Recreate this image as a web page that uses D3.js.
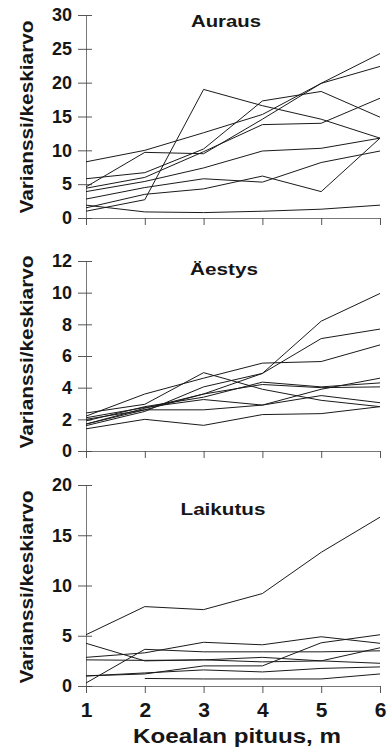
<!DOCTYPE html>
<html><head><meta charset="utf-8">
<script src="https://cdn.jsdelivr.net/npm/d3@7"></script>
<style>
body{margin:0;background:#fff}
svg{display:block}
text{font-family:"Liberation Sans",Arial,Helvetica,sans-serif;font-weight:bold;fill:#161616}
</style>
</head><body><svg id="c" width="387" height="747"></svg>
<script>
const xValues=[1,2,3,4,5,6];
const xTickLabels=["1","2","3","4","5","6"];
const panelTitles=["Auraus","Äestys","Laikutus"];
const yAxisTitle="Varianssi/keskiarvo";
const xAxisTitle="Koealan pituus, m";

const aurausTicks=[0,5,10,15,20,25,30];
const aestysTicks=[0,2,4,6,8,10,12];
const laikutusTicks=[0,5,10,15,20];

const aurausSeries=[
  [8.3,10.0,12.6,15.3,19.9,22.4],
  [4.6,9.7,9.5,14.6,19.9,24.3],
  [5.8,6.7,10.2,17.3,18.7,14.9],
  [4.4,6.0,9.8,13.8,14.0,17.7],
  [1.0,2.7,19.0,16.6,14.6,11.8],
  [3.9,5.4,7.4,9.9,10.3,11.8],
  [2.8,4.5,5.8,5.3,8.2,9.9],
  [1.5,3.5,4.3,6.2,3.9,11.8],
  [1.9,0.9,0.8,1.0,1.3,1.9]
];
const aestysSeries=[
  [1.7,2.6,3.6,4.9,8.2,9.95],
  [1.6,2.5,4.05,4.9,7.1,7.7],
  [2.2,3.6,4.6,5.55,5.65,6.7],
  [2.0,2.6,2.6,2.9,3.9,4.6],
  [1.9,2.8,3.4,4.35,4.05,4.3],
  [1.7,2.7,3.6,4.2,4.0,4.05],
  [2.4,2.95,4.95,3.9,3.2,2.8],
  [2.1,2.75,3.25,2.9,3.5,3.05],
  [1.4,2.0,1.62,2.3,2.36,2.8]
];
const laikutusSeries=[
  [5.1,7.9,7.6,9.2,13.3,16.8],
  [4.25,2.5,2.6,2.4,2.5,3.8],
  [2.85,3.3,4.35,4.1,4.9,4.25],
  [0.3,3.65,3.4,3.4,3.4,3.5],
  [2.6,2.55,2.6,2.85,2.5,2.26],
  [1.0,1.2,2.0,2.0,4.3,5.1],
  [1.0,1.3,1.6,1.4,1.75,1.9],
  [null,0.75,0.7,0.7,0.7,1.2]
];

const panels=[
  {title:panelTitles[0],series:aurausSeries,ticks:aurausTicks,top:15,bottom:218,titleX:226,titleY:27,titleW:70,labelY:117},
  {title:panelTitles[1],series:aestysSeries,ticks:aestysTicks,top:261,bottom:451,titleX:224,titleY:275,titleW:68,labelY:352},
  {title:panelTitles[2],series:laikutusSeries,ticks:laikutusTicks,top:485,bottom:686,titleX:223,titleY:515,titleW:85,labelY:587}
];

const svg=d3.select("#c");
const x=d3.scaleLinear().domain([1,6]).range([86,380]);

panels.forEach((p,pi)=>{
  const y=d3.scaleLinear().domain([0,d3.max(p.ticks)]).range([p.bottom,p.top]);
  const g=svg.append("g");

  // x axis
  const xa=g.append("g").attr("transform",`translate(0,${p.bottom})`)
    .call(d3.axisBottom(x).tickValues(xValues).tickSizeInner(7).tickSizeOuter(0).tickPadding(9)
      .tickFormat((d,i)=>xTickLabels[i]));
  xa.select(".domain").attr("stroke","#555").attr("stroke-width",0.8);
  xa.selectAll(".tick line").attr("stroke","#444").attr("stroke-width",0.9);
  if(pi<2) xa.selectAll(".tick text").remove();
  else xa.selectAll(".tick text").attr("font-size",21).attr("fill","#161616").style("font-family",'"Liberation Sans",Arial,sans-serif').style("font-weight","bold");

  // y axis
  const ya=g.append("g").attr("transform","translate(86,0)")
    .call(d3.axisLeft(y).tickValues(p.ticks).tickSizeInner(8).tickSizeOuter(0).tickPadding(6).tickFormat(d3.format("d")));
  ya.select(".domain").attr("stroke","#555").attr("stroke-width",0.8);
  ya.selectAll(".tick line").attr("stroke","#444").attr("stroke-width",0.9);
  ya.selectAll(".tick").append("line").attr("x1",0).attr("x2",6).attr("stroke","#444").attr("stroke-width",0.9);
  ya.selectAll(".tick text").attr("font-size",18).attr("fill","#161616").style("font-family",'"Liberation Sans",Arial,sans-serif').style("font-weight","bold");

  // lines
  const line=d3.line().defined(d=>d!=null).x((d,i)=>x(xValues[i])).y(d=>y(d));
  g.append("g").selectAll("path").data(p.series).join("path")
    .attr("d",d=>line(d)).attr("fill","none").attr("stroke","#1a1a1a").attr("stroke-width",1);

  // panel title
  g.append("text").attr("x",p.titleX).attr("y",p.titleY).attr("text-anchor","middle")
    .attr("font-size",17).attr("textLength",p.titleW).attr("lengthAdjust","spacingAndGlyphs").text(p.title);

  // y label
  g.append("text").attr("transform",`translate(33,${p.labelY}) rotate(-90)`).attr("text-anchor","middle")
    .attr("font-size",18.5).attr("textLength",193).attr("lengthAdjust","spacingAndGlyphs").text(yAxisTitle);
});

svg.append("text").attr("x",237).attr("y",743).attr("text-anchor","middle")
  .attr("font-size",21).attr("textLength",208).attr("lengthAdjust","spacingAndGlyphs").text(xAxisTitle);
</script>
</body></html>
